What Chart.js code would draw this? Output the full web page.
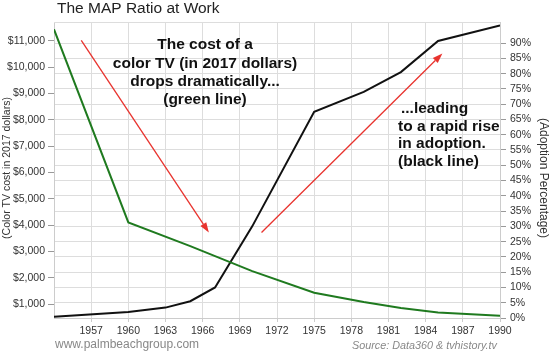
<!DOCTYPE html>
<html>
<head>
<meta charset="utf-8">
<script src="https://cdn.jsdelivr.net/npm/chart.js@4.4.1/dist/chart.umd.min.js"></script>
<style>
  body { margin: 0; background: #fff; }
</style>
</head>
<body>
<canvas id="myChart" width="550" height="354"></canvas>
<script>
// values
var costYears = [1954, 1960, 1965, 1970, 1975, 1979, 1982, 1985, 1990];
var costValues = [11430, 4100, 3200, 2250, 1430, 1080, 850, 680, 560];
var adoptYears = [1954, 1960, 1963, 1965, 1967, 1970, 1975, 1979, 1982, 1985, 1990];
var adoptValues = [0.4, 2, 3.4, 5.5, 10, 30, 67.5, 74, 80.5, 90.7, 95.8];

var yearTicks = [1957, 1960, 1963, 1966, 1969, 1972, 1975, 1978, 1981, 1984, 1987, 1990];
var costTicks = [1000, 2000, 3000, 4000, 5000, 6000, 7000, 8000, 9000, 10000, 11000];
var pctTicks = [0, 5, 10, 15, 20, 25, 30, 35, 40, 45, 50, 55, 60, 65, 70, 75, 80, 85, 90];

// red arrows, [year, percent] start and end
var arrows = [
  [[1956.2, 90.9], [1966.5, 28]],
  [[1970.75, 28], [1985.35, 86.6]]
];

const FONT = "'Liberation Sans', Arial, sans-serif";
const canvas = document.getElementById("myChart");
const ctx = canvas.getContext("2d");

function money(v) {
  return "$" + String(v).replace(/\B(?=(\d{3})+(?!\d))/g, ",");
}

function drawArrow(c, x1, y1, x2, y2) {
  var ang = Math.atan2(y2 - y1, x2 - x1);
  var len = 10, half = 3.5;
  var bx = x2 - len * Math.cos(ang), by = y2 - len * Math.sin(ang);
  c.strokeStyle = "#e8332e";
  c.fillStyle = "#e8332e";
  c.lineWidth = 1.3;
  c.beginPath();
  c.moveTo(x1, y1);
  c.lineTo(bx, by);
  c.stroke();
  c.beginPath();
  c.moveTo(x2, y2);
  c.lineTo(bx + half * Math.sin(ang), by - half * Math.cos(ang));
  c.lineTo(bx - half * Math.sin(ang), by + half * Math.cos(ang));
  c.closePath();
  c.fill();
}

const extras = {
  id: "extras",
  beforeDatasetsDraw(chart) {
    var c = chart.ctx, a = chart.chartArea;
    c.save();
    c.strokeStyle = "#ddd";
    c.lineWidth = 1;
    c.beginPath();
    c.moveTo(a.left, a.top + 0.5);
    c.lineTo(a.right, a.top + 0.5);
    c.stroke();
    c.restore();
  },
  afterDatasetsDraw(chart) {
    var c = chart.ctx, a = chart.chartArea;
    var xs = chart.scales.x, ys = chart.scales.y1;
    c.save();
    arrows.forEach((ar) => {
      drawArrow(c,
        xs.getPixelForValue(ar[0][0]), ys.getPixelForValue(ar[0][1]),
        xs.getPixelForValue(ar[1][0]), ys.getPixelForValue(ar[1][1]));
    });

    c.fillStyle = "#111";
    c.font = "bold 15.5px " + FONT;
    c.textBaseline = "middle";
    c.textAlign = "center";
    ["The cost of a", "color TV (in 2017 dollars)", "drops dramatically...", "(green line)"]
      .forEach((t, i) => c.fillText(t, 205, 45 + i * 18.3));
    c.textAlign = "left";
    ["...leading", "to a rapid rise", "in adoption.", "(black line)"]
      .forEach((t, i) => c.fillText(t, i === 0 ? 401 : 398, 108.5 + i * 17.8));

    // title
    c.font = "15.5px " + FONT;
    c.fillStyle = "#222";
    c.fillText("The MAP Ratio at Work", 57, 9);

    // footer
    c.font = "12px " + FONT;
    c.fillStyle = "#888";
    c.fillText("www.palmbeachgroup.com", 55, 345);
    c.font = "italic 10.8px " + FONT;
    c.textAlign = "right";
    c.fillText("Source: Data360 & tvhistory.tv", 497, 346);

    // axis titles
    c.fillStyle = "#333";
    c.textAlign = "center";
    c.font = "10.5px " + FONT;
    c.save();
    c.translate(7.5, 168);
    c.rotate(-Math.PI / 2);
    c.fillText("(Color TV cost in 2017 dollars)", 0, 0);
    c.restore();
    c.font = "12px " + FONT;
    c.save();
    c.translate(543, 178);
    c.rotate(Math.PI / 2);
    c.fillText("(Adoption Percentage)", 0, 0);
    c.restore();
    c.restore();
  }
};

var tickFont = { family: FONT, size: 10.5 };

new Chart(ctx, {
  type: "line",
  data: {
    datasets: [
      {
        label: "Color TV cost",
        data: costYears.map((y, i) => ({ x: y, y: costValues[i] })),
        yAxisID: "y",
        borderColor: "#1f7a1f",
        borderWidth: 2,
        pointRadius: 0,
        tension: 0
      },
      {
        label: "Adoption",
        data: adoptYears.map((y, i) => ({ x: y, y: adoptValues[i] })),
        yAxisID: "y1",
        borderColor: "#111",
        borderWidth: 2,
        pointRadius: 0,
        tension: 0
      }
    ]
  },
  options: {
    responsive: false,
    animation: false,
    layout: { padding: { top: 22, left: 0, right: 0, bottom: 0 } },
    plugins: {
      legend: { display: false },
      tooltip: { enabled: false }
    },
    scales: {
      x: {
        type: "linear",
        min: 1954,
        max: 1990,
        afterBuildTicks: (s) => { s.ticks = yearTicks.map((v) => ({ value: v })); },
        afterFit: (s) => { s.height = 36; },
        ticks: {
          callback: (v) => String(v),
          font: tickFont,
          color: "#333",
          padding: 3,
          maxRotation: 0,
          autoSkip: false
        },
        grid: { color: "#ddd", tickLength: 4, tickColor: "#ccc" },
        border: { color: "#ccc" }
      },
      y: {
        position: "left",
        min: 470,
        max: 11710,
        afterBuildTicks: (s) => { s.ticks = costTicks.map((v) => ({ value: v })); },
        afterFit: (s) => { s.width = 54; },
        ticks: { callback: (v) => money(v), font: tickFont, color: "#333", padding: 3 },
        grid: { drawOnChartArea: false, tickLength: 6, tickColor: "#999" },
        border: { color: "#ccc" }
      },
      y1: {
        position: "right",
        min: 0,
        max: 96.9,
        afterBuildTicks: (s) => { s.ticks = pctTicks.map((v) => ({ value: v })); },
        afterFit: (s) => { s.width = 50; },
        ticks: { callback: (v) => v + "%", font: tickFont, color: "#333", padding: 4 },
        grid: { color: "#ddd", tickLength: 6, tickColor: "#999" },
        border: { color: "#ccc" }
      }
    }
  },
  plugins: [extras]
});
</script>
</body>
</html>
